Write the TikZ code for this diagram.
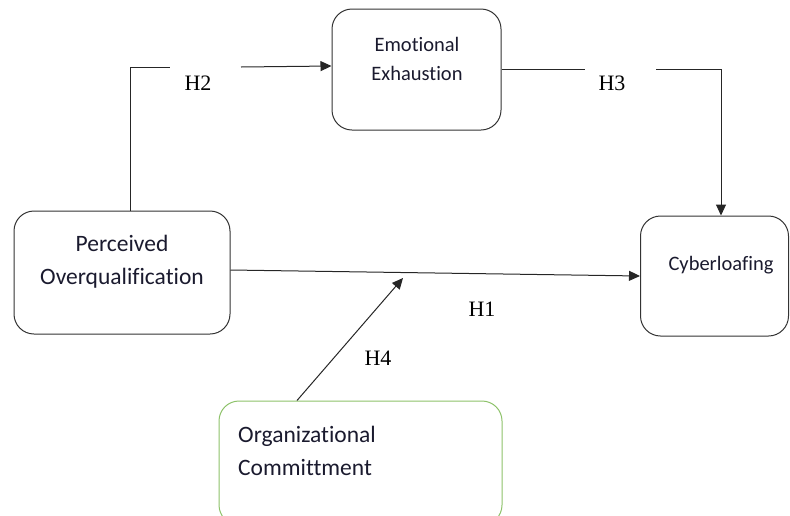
\documentclass[tikz,border=0pt]{standalone}
\usepackage{fontspec}
\setmainfont[Ligatures=NoCommon]{Carlito}
\newfontfamily\labelfont{Liberation Serif}
\usetikzlibrary{arrows.meta}
\definecolor{boxline}{HTML}{333333}
\definecolor{greenline}{HTML}{8DC26A}
\definecolor{txt}{HTML}{1A1A2E}
\tikzset{
  x=1pt,y=-1pt,
  varbox/.style={draw=boxline,line width=1pt,rounded corners=20pt,inner sep=0pt},
  boxtext/.style={text=txt,align=center,inner sep=0pt,font=\fontsize{23.5}{33}\selectfont},
  smalltext/.style={boxtext,font=\fontsize{20.5}{29}\selectfont},
  hlabel/.style={font=\labelfont\fontsize{22}{24}\selectfont,text=black,inner sep=0pt},
  link/.style={draw=black!85,line width=1pt},
  arrowlink/.style={link,-{Triangle[length=11pt,width=10pt]}}
}
\begin{document}
\begin{tikzpicture}
\useasboundingbox (0,0) rectangle (790,515);
% boxes
\node[varbox,minimum width=216pt,minimum height=123pt] (PO) at (122,272.5) {};
\node[varbox,minimum width=169pt,minimum height=121pt] (EE) at (416.5,69.5) {};
\node[varbox,minimum width=148pt,minimum height=120pt] (CY) at (714.5,276) {};
\node[varbox,draw=greenline,minimum width=283pt,minimum height=124pt] (OC) at (360.5,463) {};
% texts
\node[boxtext] (POt) at (122,262) {Perceived\\Overqualification};
\node[smalltext] (EEt) at (417,58.5) {Emotional\\Exhaustion};
\node[smalltext] (CYt) at (721,265) {Cyberloafing};
\node[boxtext,align=left,anchor=west] (OCt) at (238,450.5) {Organizational\\Committment};
% labels
\node[hlabel] (H2) at (198,83) {H2};
\node[hlabel] (H3) at (612,83) {H3};
\node[hlabel] (H1) at (482,309) {H1};
\node[hlabel] (H4) at (378,358) {H4};
% connector coordinates
\coordinate (h2a) at (170,67);
\coordinate (h2b) at (241,67);
\coordinate (h3a) at (585,69);
\coordinate (h3b) at (656,69);
\coordinate (h3c) at (721,69);
\coordinate (h4end) at (403,278);
% H2
\draw[link] (PO.north -| 130,0) |- (h2a);
\draw[arrowlink] (h2b) -- (EE.west |- 0,66);
% H3
\draw[link] (EE.east |- h3a) -- (h3a);
\draw[arrowlink] (h3b) -- (h3c) -- (CY.north -| h3c);
% H1
\draw[arrowlink] (PO.east |- 0,270) -- (CY.west |- 0,276);
% H4
\draw[arrowlink] (OC.north -| 297,0) -- (h4end);
\end{tikzpicture}
\end{document}
